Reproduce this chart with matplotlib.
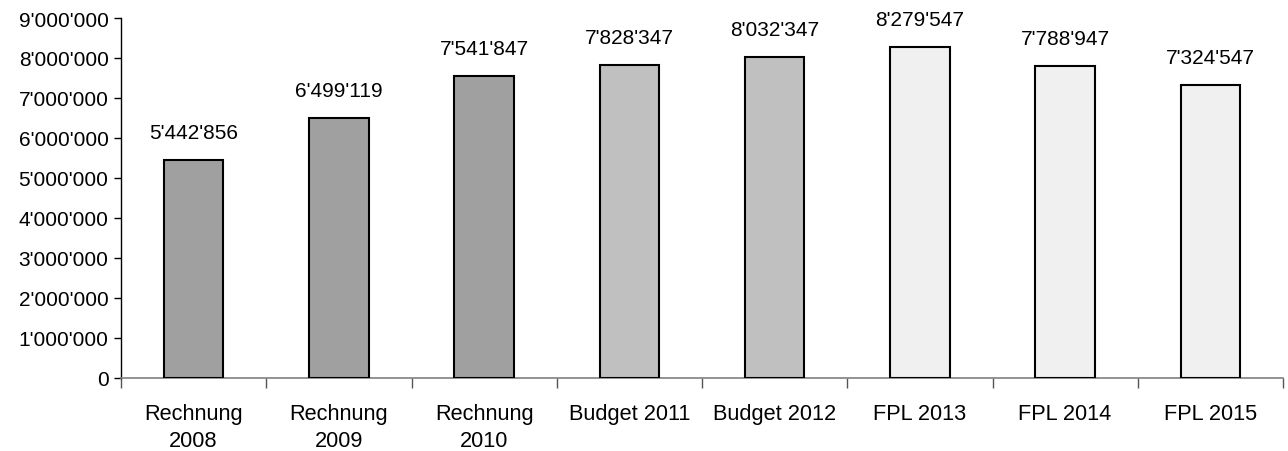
import matplotlib.pyplot as plt
from matplotlib.ticker import FuncFormatter, FixedLocator
import numpy as np

plt.rcParams['font.family'] = ['Liberation Sans', 'DejaVu Sans']

categories = ["Rechnung\n2008", "Rechnung\n2009", "Rechnung\n2010", "Budget 2011",
              "Budget 2012", "FPL 2013", "FPL 2014", "FPL 2015"]
values = [5442856, 6499119, 7541847, 7828347, 8032347, 8279547, 7788947, 7324547]
bar_colors = ["#a0a0a0", "#a0a0a0", "#a0a0a0", "#c0c0c0", "#c0c0c0",
              "#f0f0f0", "#f0f0f0", "#f0f0f0"]

FS = 15


def swiss(v):
    return "{:,.0f}".format(v).replace(",", "'")


fig = plt.figure(figsize=(12.88, 4.52), dpi=100)
ax = fig.add_axes([121 / 1288, 1 - 379 / 452, (1283 - 121) / 1288, (379 - 19) / 452])

x = np.arange(len(values))
ax.bar(x, values, width=0.41, color=bar_colors, edgecolor="black", linewidth=1.5, zorder=3)

# value labels above each bar
for xi, v in zip(x, values):
    ax.annotate(swiss(v), (xi, v), xytext=(0, 13), textcoords="offset points",
                ha="center", va="bottom", fontsize=FS)

ax.set_xlim(-0.5, len(values) - 0.5)
ax.set_ylim(0, 9000000)
ax.set_yticks(np.arange(0, 9000001, 1000000))
ax.yaxis.set_major_formatter(FuncFormatter(lambda v, _: swiss(v)))

# category names centred, tick marks between categories
ax.set_xticks(x)
ax.set_xticklabels(categories, fontsize=FS + 0.7, linespacing=1.4)
ax.xaxis.set_minor_locator(FixedLocator(np.arange(-0.5, len(values), 1.0)))
ax.tick_params(axis="x", which="major", length=0, pad=18)
ax.tick_params(axis="x", which="minor", length=7, width=1, color="#555555")
ax.tick_params(axis="y", labelsize=FS, length=5, width=1, pad=4)

ax.spines["top"].set_visible(False)
ax.spines["right"].set_visible(False)
ax.spines["bottom"].set_color("#808080")
ax.spines["bottom"].set_linewidth(1.2)
ax.spines["left"].set_linewidth(1.0)

fig.savefig("out.png", dpi=100)
